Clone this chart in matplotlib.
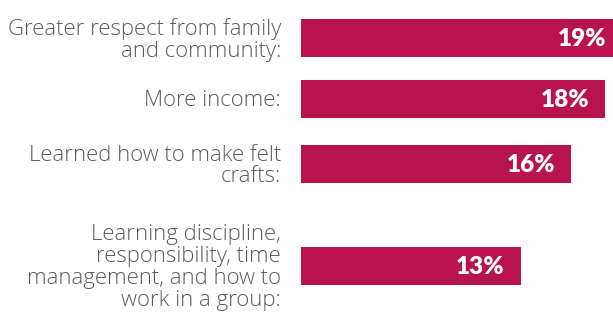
import matplotlib
matplotlib.use("Agg")
import matplotlib.pyplot as plt

# Survey results: share of respondents naming each benefit
categories = [
    "Greater respect from family\nand community:",
    "More income:",
    "Learned how to make felt\ncrafts:",
    "Learning discipline,\nresponsibility, time\nmanagement, and how to\nwork in a group:",
]
values = [19, 18, 16, 13]
value_labels = ["19%", "18%", "16%", "13%"]

# Layout (in pixel units of the 613x323 canvas)
W, H = 613, 323
bar_left_px = 301
px_per_pct = 16.9
row_centers = [38, 99, 164, 265.5]
bar_h = 38

bar_color = "#B9134F"
text_color = "#5C5C5C"

fig = plt.figure(figsize=(W / 100, H / 100), dpi=100)
ax = fig.add_axes([bar_left_px / W, 0, (W - bar_left_px) / W, 1])
ax.set_xlim(0, (W - bar_left_px) / px_per_pct)
ax.set_ylim(H, 0)
ax.axis("off")

ax.barh(row_centers, values, height=bar_h, color=bar_color, left=0)

label_gap = 20 / px_per_pct
value_pad = 16 / px_per_pct
for y, cat, v, lab in zip(row_centers, categories, values, value_labels):
    ax.text(-label_gap, y + 2, cat, ha="right", va="center", fontsize=15.9,
            color=text_color, family="Open Sans", fontweight="light",
            linespacing=1.05, clip_on=False)
    ax.text(v - value_pad, y + 1, lab, ha="right", va="center", fontsize=17.5,
            color="white", family="Lato", fontweight="heavy")

fig.savefig("out.png", dpi=100)
